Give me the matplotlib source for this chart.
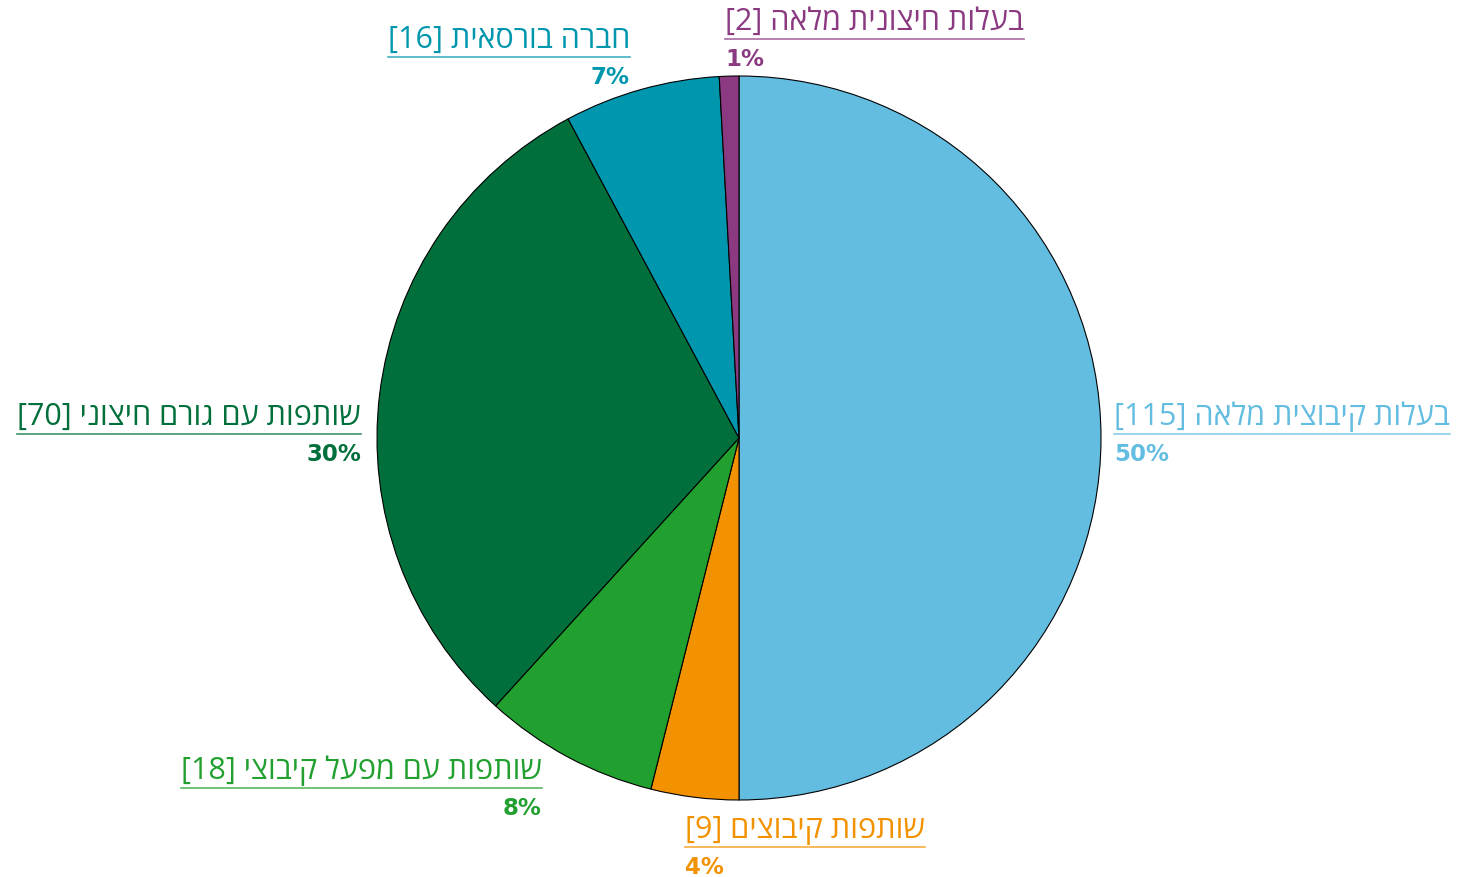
import matplotlib
matplotlib.use("Agg")
import matplotlib.pyplot as plt
from matplotlib.lines import Line2D

# data (clockwise from 12 o'clock)
labels = ["בעלות קיבוצית מלאה", "שותפות קיבוצים", "שותפות עם מפעל קיבוצי",
          "שותפות עם גורם חיצוני", "חברה בורסאית", "בעלות חיצונית מלאה"]
counts = [115, 9, 18, 70, 16, 2]
colors = ["#63BDE1", "#F39200", "#21A030", "#006F3B", "#0096AE", "#8B3A82"]

# label anchor (pixel x, pixel y of text centre, alignment)
anchors = [(1114, 417, "left"), (685, 830, "left"), (542, 771, "right"),
           (361, 417, "right"), (630, 40, "right"), (725, 22, "left")]

W, H = 1459, 878
fig = plt.figure(figsize=(W / 100, H / 100), dpi=100)
fig.patch.set_facecolor("white")

cx, cy, r = 739, 439, 362
ax = fig.add_axes([(cx - r) / W, (H - cy - r) / H, 2 * r / W, 2 * r / H])
ax.pie(counts, colors=colors, startangle=90, counterclock=False, radius=1,
       wedgeprops=dict(edgecolor="black", linewidth=0.8))
ax.set_xlim(-1, 1)
ax.set_ylim(-1, 1)
ax.set_aspect("equal")
ax.axis("off")

total = sum(counts)
fam = ["Open Sans", "DejaVu Sans"]
texts = []
for lab, n, c, (x, y, ha) in zip(labels, counts, colors, anchors):
    # matplotlib has no bidi support: build the visual (left-to-right) order
    s = "[%d] " % n + lab[::-1]
    t = fig.text(x / W, 1 - y / H, s, ha=ha, va="center", color=c,
                 fontsize=22, family=fam)
    pct = round(n / total * 100)
    fig.text(x / W, 1 - (y + 38) / H, "%d%%" % pct, ha=ha, va="center",
             color=c, fontsize=16.5, fontweight="bold", family="DejaVu Sans")
    texts.append((t, c, y))

fig.canvas.draw()
rend = fig.canvas.get_renderer()
for t, c, y in texts:
    bb = t.get_window_extent(rend)
    ly = 1 - (y + 18) / H
    fig.add_artist(Line2D([bb.x0 / W, bb.x1 / W], [ly, ly], color=c,
                          alpha=0.75, linewidth=1.2, transform=fig.transFigure))

fig.savefig("out.png", dpi=100)
